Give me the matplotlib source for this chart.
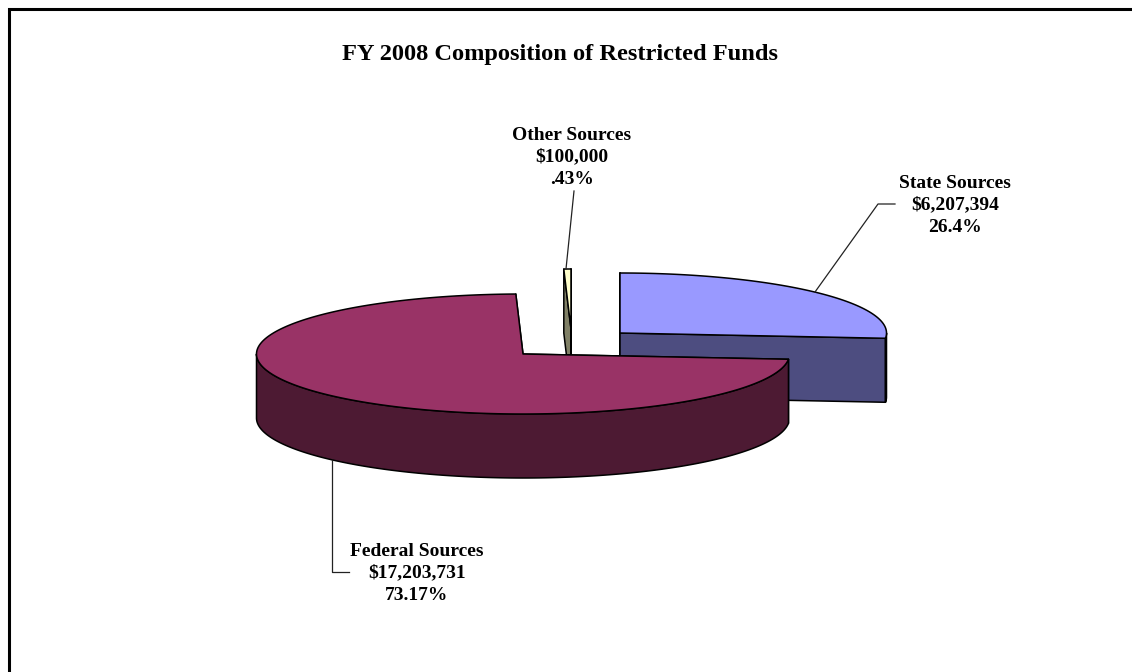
import numpy as np
import matplotlib
matplotlib.use("Agg")
import matplotlib.pyplot as plt
from matplotlib.patches import Polygon

title = "FY 2008 Composition of Restricted Funds"
names = ["State Sources", "Federal Sources", "Other Sources"]
amounts = ["$6,207,394", "$17,203,731", "$100,000"]
pct_labels = ["26.4%", "73.17%", ".43%"]
percents = [26.4, 73.17, 0.43]

top_cols = ["#9999ff", "#993366", "#ffffcc"]
side_cols = ["#4d4d80", "#4d1a33", "#808066"]

# layout in pixels, y goes down
centers = [(620, 333), (523, 354), (571, 329)]
rx = 266.5
ry = 60
depth = 64
W, H = 1132, 672

plt.rcParams['font.family'] = ['Liberation Serif', 'DejaVu Serif']

fig = plt.figure(figsize=(W / 100, H / 100), dpi=100)
ax = fig.add_axes([0, 0, 1, 1])
ax.set_xlim(0, W)
ax.set_ylim(H, 0)
ax.axis("off")

# only left and top of the frame are visible
ax.plot([8.5, 8.5, W], [H, 8.5, 8.5], color="black", lw=2.2, solid_joinstyle="miter")


def rim(c, a0, a1):
    # angles clockwise from 12 o'clock
    t = np.radians(np.linspace(a0, a1, max(int(abs(a1 - a0) * 2), 2)))
    return np.column_stack([c[0] + rx * np.sin(t), c[1] - ry * np.cos(t)])


def draw_slice(i, a0, a1):
    c = centers[i]
    edge = dict(edgecolor="black", lw=1.1, joinstyle="round")
    arc = rim(c, a0, a1)
    down = np.array([0, depth])
    # cut faces
    for a in (a0, a1):
        p = rim(c, a, a)[0]
        face = [c, p, p + down, np.array(c) + down]
        ax.add_patch(Polygon(face, closed=True, facecolor=side_cols[i], **edge))
    # outer wall, only the front half shows
    lo, hi = max(a0, 90), min(a1, 270)
    if hi > lo:
        front = rim(c, lo, hi)
        ax.add_patch(Polygon(np.vstack([front, front[::-1] + down]), closed=True,
                             facecolor=side_cols[i], **edge))
    ax.add_patch(Polygon(np.vstack([[c], arc]), closed=True, facecolor=top_cols[i], **edge))


angles = np.cumsum([0] + percents) * 3.6

# back to front
draw_slice(2, angles[2], angles[3])
draw_slice(0, angles[0], angles[1])
draw_slice(1, angles[1], angles[2])

# leader lines
ax.plot([815, 878, 895], [292, 204, 204], color="#222222", lw=0.9)
ax.plot([332, 332, 349], [460, 572, 572], color="#222222", lw=0.9)
ax.plot([566, 574], [269, 191], color="#222222", lw=0.9)

ax.text(560, 54.5, title, ha="center", va="center", fontsize=17.6, fontweight="bold", color="black")

label_pos = [(955, 183), (417, 551), (572, 135)]
for i in range(3):
    x, y = label_pos[i]
    lines = [names[i], amounts[i], pct_labels[i]]
    for j in range(3):
        ax.text(x, y + j * 22, lines[j], ha="center", va="center",
                fontsize=14, fontweight="bold", color="black")

fig.savefig("out.png", dpi=100, facecolor="white")
